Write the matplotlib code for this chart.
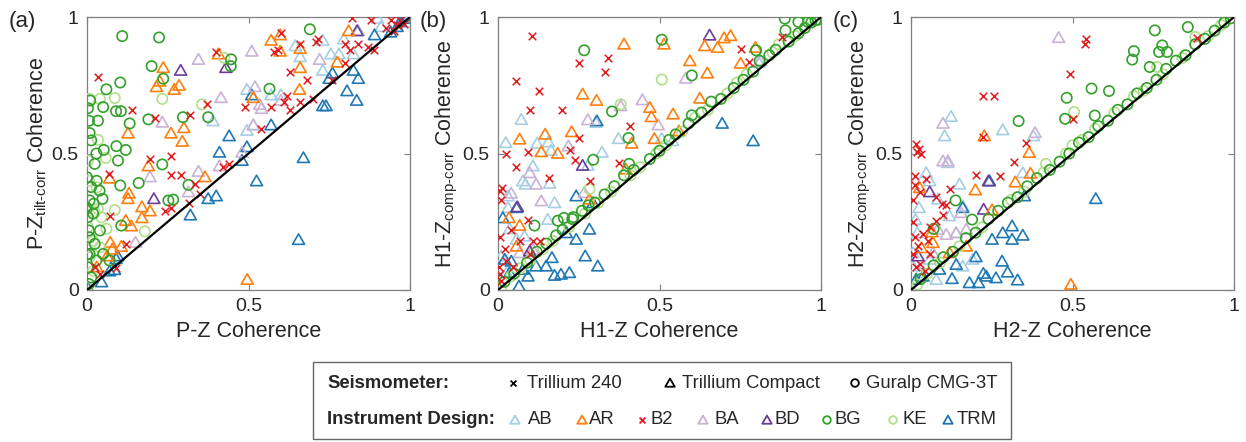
import matplotlib
matplotlib.use("Agg")
import matplotlib.pyplot as plt
from matplotlib.patches import Rectangle
from matplotlib.path import Path
import numpy as np

plt.rcParams['font.family'] = ['Liberation Sans', 'DejaVu Sans']
plt.rcParams['mathtext.fontset'] = 'custom'
plt.rcParams['mathtext.rm'] = 'Liberation Sans'
plt.rcParams['mathtext.it'] = 'Liberation Sans:italic'
plt.rcParams['mathtext.bf'] = 'Liberation Sans:bold'

# ---------------- data (x = uncorrected coherence, y = corrected coherence) ----------------
designs = ["AB", "AR", "B2", "BA", "BD", "BG", "KE", "TRM"]
design_colors = ["#a6cee3", "#ff7f0e", "#e31a1c", "#cab2d6", "#6a3d9a", "#33a02c", "#b2df8a", "#1f78b4"]
design_markers = ["tri", "tri", "x", "tri", "tri", "o", "o", "tri"]

panel_letters = ["(a)", "(b)", "(c)"]
x_labels = ["P-Z Coherence", "H1-Z Coherence", "H2-Z Coherence"]
y_labels = ["P-Z$_{\\mathrm{tilt\u2010corr}}$ Coherence",
            "H1-Z$_{\\mathrm{comp\u2010corr}}$ Coherence",
            "H2-Z$_{\\mathrm{comp\u2010corr}}$ Coherence"]
tick_vals = [0, 0.5, 1]
tick_labels = ["0", "0.5", "1"]
seis_names = ["Trillium 240", "Trillium Compact", "Guralp CMG-3T"]

# ---- panel (a) ----
a_AB = [(0.495,0.73),(0.57,0.71),(0.60,0.71),(0.645,0.89),(0.66,0.85),(0.73,0.91),(0.755,0.86),(0.78,0.86),
        (0.825,0.86),(0.73,0.80),(0.495,0.58),(0.515,0.60),(0.39,0.615),(0.91,0.96),(0.99,0.975),(0.90,0.99),
        (0.84,0.945),(0.795,0.915)]
a_AR = [(0.236,0.81),(0.215,0.74),(0.225,0.76),(0.27,0.73),(0.285,0.745),(0.127,0.57),(0.26,0.57),(0.30,0.59),
        (0.295,0.54),(0.19,0.45),(0.07,0.405),(0.13,0.35),(0.127,0.33),(0.17,0.30),(0.17,0.26),(0.195,0.285),
        (0.12,0.25),(0.137,0.23),(0.072,0.17),(0.078,0.145),(0.106,0.155),(0.062,0.12),(0.365,0.41),(0.496,0.034),
        (0.57,0.91),(0.598,0.93),(0.598,0.87),(0.66,0.88),(0.66,0.81),(0.658,0.73),(0.515,0.70),(0.407,0.86),
        (0.81,0.945),(0.775,0.83),(0.03,0.08)]
a_B2 = [(0.034,0.78),(0.14,0.66),(0.21,0.63),(0.32,0.64),(0.37,0.68),(0.195,0.48),(0.26,0.49),(0.067,0.425),
        (0.26,0.42),(0.29,0.42),(0.24,0.29),(0.26,0.30),(0.317,0.32),(0.35,0.35),(0.335,0.39),(0.122,0.17),(0.07,0.27),
        (0.40,0.87),(0.59,0.88),(0.58,0.87),(0.60,0.94),(0.66,0.90),(0.71,0.91),(0.715,0.92),(0.63,0.80),
        (0.68,0.77),(0.62,0.71),(0.61,0.69),(0.57,0.67),(0.49,0.67),(0.63,0.66),(0.66,0.69),(0.70,0.70),
        (0.54,0.59),(0.44,0.46),(0.42,0.45),(0.76,0.77),(0.80,0.90),(0.815,0.88),(0.84,0.90),(0.87,0.89),
        (0.88,0.99),(0.94,0.99),(0.925,0.96),(0.95,0.95),(0.96,0.97),(0.80,0.83),(0.82,0.995),(0.89,0.88),
        (0.97,0.99),(0.98,0.975),(0.04,0.06),(0.024,0.083),(0.09,0.08)]
a_BA = [(0.345,0.84),(0.51,0.87),(0.72,0.84),(0.415,0.70),(0.52,0.74),(0.535,0.675),(0.54,0.66),(0.60,0.69),
        (0.233,0.61),(0.195,0.41),(0.345,0.43),(0.41,0.45),(0.314,0.355),(0.48,0.50),(0.15,0.17),(0.515,0.60)]
a_BD = [(0.29,0.80),(0.43,0.81),(0.207,0.33),(0.836,0.945)]
a_BG = [(0.109,0.93),(0.223,0.925),(0.69,0.955),(0.20,0.82),(0.236,0.774),(0.103,0.76),(0.06,0.735),(0.446,0.845),
        (0.445,0.82),(0.565,0.737),(0.05,0.67),(0.09,0.655),(0.105,0.655),(0.132,0.61),(0.19,0.625),(0.297,0.633),
        (0.375,0.633),(0.034,0.62),(0.006,0.62),(0.008,0.575),(0.052,0.513),(0.091,0.527),(0.12,0.513),(0.096,0.474),
        (0.233,0.46),(0.16,0.392),(0.103,0.383),(0.314,0.385),(0.252,0.328),(0.267,0.331),(0.048,0.334),(0.106,0.236),
        (0.01,0.694),(0.003,0.666),(0.013,0.548),(0.024,0.462),(0.03,0.40),(0.013,0.377),(0.039,0.364),(0.008,0.328),
        (0.019,0.28),(0.006,0.218),(0.024,0.169),(0.008,0.132),(0.029,0.108),(0.003,0.083),(0.013,0.046),(0.006,0.022),
        (0.008,0.193),(0.04,0.218),(0.003,0.267),(0.021,0.316),(0.0,0.413),(0.029,0.50),(0.05,0.132),(0.07,0.108),
        (0.0,0.30),(0.0,0.13)]
a_KE = [(0.425,0.85),(0.356,0.68),(0.233,0.70),(0.086,0.703),(0.04,0.70),(0.008,0.70),(0.034,0.55),(0.058,0.484),
        (0.003,0.474),(0.086,0.293),(0.06,0.224),(0.179,0.215),(0.024,0.285),(0.034,0.297),(0.006,0.40),(0.019,0.18),
        (0.04,0.156),(0.008,0.12),(0.0,0.01),(0.019,0.07),(0.03,0.376),(0.045,0.266),(0.003,0.23)]
a_TRM = [(0.985,1.0),(0.99,0.99),(0.97,0.98),(0.96,0.96),(0.89,0.93),(0.94,0.94),(0.825,0.80),(0.84,0.77),
         (0.805,0.725),(0.835,0.69),(0.76,0.79),(0.75,0.77),(0.73,0.67),(0.74,0.67),(0.51,0.71),(0.57,0.60),
         (0.44,0.56),(0.495,0.52),(0.41,0.50),(0.48,0.47),(0.67,0.48),(0.525,0.395),(0.40,0.34),(0.375,0.33),
         (0.32,0.27),(0.655,0.18),(0.09,0.11),(0.07,0.065),(0.085,0.07),(0.045,0.025),(0.003,0.004),(0.095,0.12)]

# ---- panel (b) ----
b_AB = [(0.072,0.62),(0.024,0.535),(0.121,0.533),(0.156,0.538),(0.164,0.507),(0.373,0.55),(0.322,0.50),(0.278,0.452),
        (0.108,0.45),(0.077,0.395),(0.085,0.383),(0.16,0.386),(0.175,0.315),(0.154,0.254),(0.031,0.34),(0.031,0.297),
        (0.036,0.22),(0.057,0.181),(0.082,0.193),(0.303,0.609),(0.507,0.55),(0.54,0.542),(0.807,0.83),(0.01,0.12),
        (0.026,0.059)]
b_AR = [(0.39,0.896),(0.514,0.896),(0.64,0.89),(0.68,0.884),(0.70,0.919),(0.72,0.927),(0.594,0.835),(0.648,0.79),
        (0.751,0.826),(0.262,0.713),(0.305,0.69),(0.47,0.664),(0.475,0.63),(0.542,0.64),(0.625,0.698),(0.067,0.548),
        (0.146,0.566),(0.228,0.575),(0.134,0.502),(0.185,0.496),(0.414,0.533),(0.484,0.55),(0.396,0.438),(0.067,0.232),
        (0.057,0.156),(0.034,0.26),(0.56,0.578),(0.797,0.884),(0.283,0.328)]
b_B2 = [(0.106,0.93),(0.25,0.83),(0.342,0.85),(0.331,0.80),(0.057,0.765),(0.126,0.73),(0.098,0.66),(0.199,0.66),
        (0.41,0.60),(0.252,0.557),(0.024,0.50),(0.093,0.505),(0.223,0.513),(0.238,0.477),(0.057,0.45),(0.376,0.466),
        (0.157,0.41),(0.285,0.40),(0.005,0.364),(0.013,0.374),(0.753,0.884),(0.777,0.835),(0.88,0.927),(0.01,0.328),
        (0.093,0.257),(0.007,0.193),(0.021,0.15),(0.041,0.218),(0.067,0.181),(0.108,0.181),(0.005,0.059),(0.01,0.034),
        (0.003,0.083),(0.026,0.108),(0.046,0.083),(0.098,0.132),(0.129,0.181)]
b_BA = [(0.447,0.692),(0.496,0.60),(0.278,0.619),(0.218,0.523),(0.098,0.425),(0.118,0.383),(0.134,0.322),(0.041,0.35),
        (0.581,0.771),(0.38,0.67),(0.267,0.352),(0.108,0.144),(0.813,0.835),(0.067,0.132)]
b_BD = [(0.655,0.929),(0.262,0.452),(0.06,0.30),(0.098,0.138)]
b_BG = [(0.888,0.994),(0.89,0.951),(0.93,0.982),(0.96,0.982),(0.983,0.988),(0.799,0.878),(0.507,0.917),(0.267,0.878),
        (0.60,0.786),(0.353,0.654),(0.404,0.557),(0.406,0.462),(0.295,0.477),(0.113,0.236),(0.185,0.254),(0.204,0.264),
        (0.233,0.267),(0.02,0.03),(0.05,0.06),(0.09,0.10),(0.12,0.14),(0.15,0.17),(0.18,0.20),(0.20,0.22),(0.23,0.26),
        (0.26,0.29),(0.28,0.31),(0.30,0.32),(0.33,0.35),(0.36,0.38),(0.39,0.42),(0.42,0.44),(0.47,0.48),(0.50,0.51),
        (0.53,0.55),(0.55,0.57),(0.59,0.61),(0.60,0.64),(0.63,0.65),(0.66,0.69),(0.69,0.70),(0.73,0.74),(0.76,0.77),
        (0.79,0.80),(0.81,0.84),(0.84,0.86),(0.86,0.88),(0.90,0.91),(0.93,0.94),(0.95,0.96),(0.97,0.98),(0.99,0.99)]
b_KE = [(0.507,0.771),(0.38,0.68),(0.283,0.37),(0.01,0.01),(0.04,0.05),(0.07,0.08),(0.10,0.11),(0.14,0.15),(0.17,0.18),
        (0.22,0.23),(0.27,0.28),(0.31,0.32),(0.35,0.36),(0.41,0.42),(0.44,0.45),(0.49,0.50),(0.52,0.53),(0.57,0.58),
        (0.61,0.63),(0.65,0.66),(0.71,0.72),(0.74,0.76),(0.77,0.79),(0.85,0.87),(0.87,0.90),(0.92,0.93)]
b_TRM = [(0.306,0.615),(0.694,0.606),(0.79,0.542),(0.242,0.34),(0.283,0.218),(0.27,0.12),(0.309,0.083),(0.221,0.059),
         (0.195,0.053),(0.175,0.049),(0.167,0.114),(0.149,0.083),(0.093,0.046),(0.065,0.01),(0.041,0.101),(0.021,0.108),
         (0.015,0.26),(0.057,0.297),(0.036,0.059),(0.077,0.071),(0.118,0.083),(0.242,0.181),(0.211,0.205),(0.294,0.315)]

# ---- panel (c) ----
c_AB = [(0.124,0.631),(0.104,0.56),(0.284,0.582),(0.379,0.56),(0.047,0.425),(0.058,0.395),(0.15,0.383),(0.114,0.462),
        (0.025,0.297),(0.014,0.254),(0.083,0.328),(0.119,0.267),(0.16,0.303),(0.346,0.425),(0.019,0.205),(0.006,0.083),
        (0.027,0.059),(0.006,0.132),(0.14,0.205),(0.191,0.108),(0.16,0.083),(0.078,0.034),(0.058,0.108)]
c_AR = [(0.227,0.56),(0.366,0.499),(0.37,0.423),(0.323,0.391),(0.199,0.362),(0.251,0.289),(0.027,0.37),(0.065,0.208),
        (0.495,0.016),(0.068,0.169),(0.032,0.15),(0.119,0.132),(0.171,0.156)]
c_B2 = [(0.541,0.92),(0.538,0.902),(0.492,0.792),(0.222,0.709),(0.256,0.71),(0.503,0.627),(0.356,0.539),(0.32,0.468),
        (0.016,0.535),(0.025,0.517),(0.032,0.499),(0.02,0.505),(0.013,0.416),(0.202,0.42),(0.276,0.416),(0.047,0.407),
        (0.122,0.37),(0.011,0.383),(0.027,0.358),(0.078,0.34),(0.097,0.315),(0.109,0.31),(0.099,0.273),(0.078,0.254),
        (0.006,0.248),(0.058,0.23),(0.011,0.193),(0.022,0.163),(0.006,0.132),(0.027,0.095),(0.042,0.071),(0.016,0.083),
        (0.058,0.132),(0.037,0.205),(0.886,0.924),(0.222,0.56),(0.006,0.328),(0.052,0.181)]
c_BA = [(0.457,0.92),(0.384,0.572),(0.099,0.606),(0.099,0.468),(0.114,0.468),(0.083,0.218),(0.109,0.199),(0.14,0.205),
        (0.171,0.218),(0.155,0.279),(0.068,0.132)]
c_BD = [(0.058,0.355),(0.24,0.395),(0.225,0.291),(0.022,0.12)]
c_BG = [(0.755,0.951),(0.857,0.963),(0.69,0.875),(0.685,0.844),(0.778,0.896),(0.768,0.872),(0.793,0.872),(0.739,0.817),
        (0.559,0.738),(0.613,0.729),(0.482,0.704),(0.477,0.627),(0.569,0.639),(0.333,0.619),(0.138,0.328),(0.189,0.258),
        (0.07,0.224),(0.03,0.04),(0.07,0.09),(0.10,0.12),(0.13,0.14),(0.17,0.19),(0.20,0.21),(0.24,0.26),(0.27,0.29),
        (0.30,0.32),(0.33,0.34),(0.36,0.38),(0.39,0.41),(0.43,0.44),(0.46,0.47),(0.49,0.50),(0.52,0.54),(0.55,0.56),
        (0.58,0.60),(0.61,0.62),(0.64,0.66),(0.67,0.68),(0.70,0.72),(0.73,0.74),(0.76,0.77),(0.79,0.81),(0.82,0.84),
        (0.85,0.86),(0.88,0.90),(0.91,0.92),(0.94,0.95),(0.97,0.98),(0.99,0.995)]
c_KE = [(0.505,0.652),(0.762,0.817),(0.418,0.462),(0.88,0.927),(0.02,0.02),(0.05,0.06),(0.09,0.10),(0.15,0.16),
        (0.22,0.23),(0.31,0.33),(0.35,0.36),(0.41,0.43),(0.48,0.50),(0.50,0.53),(0.53,0.55),(0.57,0.59),(0.63,0.65),
        (0.69,0.71),(0.72,0.73),(0.78,0.79),(0.84,0.85),(0.92,0.93),(0.96,0.97)]
c_TRM = [(0.572,0.33),(0.313,0.23),(0.284,0.205),(0.313,0.181),(0.346,0.196),(0.251,0.181),(0.201,0.117),(0.282,0.101),
         (0.224,0.056),(0.299,0.061),(0.33,0.032),(0.181,0.022),(0.209,0.022),(0.263,0.04),(0.127,0.037),(0.14,0.089),
         (0.351,0.34),(0.243,0.395),(0.16,0.297),(0.016,0.034),(0.037,0.046),(0.088,0.071),(0.233,0.046)]

panel_data = [
    {"AB": a_AB, "AR": a_AR, "B2": a_B2, "BA": a_BA, "BD": a_BD, "BG": a_BG, "KE": a_KE, "TRM": a_TRM},
    {"AB": b_AB, "AR": b_AR, "B2": b_B2, "BA": b_BA, "BD": b_BD, "BG": b_BG, "KE": b_KE, "TRM": b_TRM},
    {"AB": c_AB, "AR": c_AR, "B2": c_B2, "BA": c_BA, "BD": c_BD, "BG": c_BG, "KE": c_KE, "TRM": c_TRM},
]

# ---------------- styling ----------------
W, H = 1246, 442
fig = plt.figure(figsize=(W / 100, H / 100), dpi=100)

TRI = Path([(-1, -0.577), (1, -0.577), (0, 1.155), (-1, -0.577)],
           [Path.MOVETO, Path.LINETO, Path.LINETO, Path.CLOSEPOLY])

def mk(name):
    return TRI if name == "tri" else name

sizes = {"tri": 100, "o": 55, "x": 30}
draw_order = ["AB", "TRM", "BA", "BD", "AR", "KE", "BG", "B2"]

ax_left_px = [87, 498, 911]
ax_w_px = 323
ax_top_px, ax_bot_px = 17, 290
spine_col = "#7f7f7f"
txt_col = "#262626"

for i in range(3):
    ax = fig.add_axes([ax_left_px[i] / W, 1 - ax_bot_px / H, ax_w_px / W, (ax_bot_px - ax_top_px) / H])
    for d in draw_order:
        j = designs.index(d)
        pts = np.array(panel_data[i][d])
        m = design_markers[j]
        if m == "x":
            ax.scatter(pts[:, 0], pts[:, 1], marker="x", s=sizes["x"], c=design_colors[j], linewidths=1.1, zorder=3)
        else:
            ax.scatter(pts[:, 0], pts[:, 1], marker=mk(m), s=sizes[m], facecolors="none",
                       edgecolors=design_colors[j], linewidths=1.2, zorder=3)
    ax.plot([0, 1], [0, 1], color="black", lw=1.6, zorder=4)
    ax.set_xlim(0, 1)
    ax.set_ylim(0, 1)
    ax.set_xticks(tick_vals)
    ax.set_xticklabels(tick_labels)
    ax.set_yticks(tick_vals)
    ax.set_yticklabels(tick_labels)
    ax.tick_params(direction="in", top=True, right=True, length=4, width=0.8,
                   color=spine_col, labelsize=14, labelcolor=txt_col, pad=6)
    for s in ax.spines.values():
        s.set_color(spine_col)
        s.set_linewidth(0.9)
    ax.set_xlabel(x_labels[i], fontsize=15.5, color=txt_col, labelpad=4)
    ax.set_ylabel(y_labels[i], fontsize=15.5, color=txt_col, labelpad=2)
    fig.text((ax_left_px[i] - 78) / W, 1 - 22 / H, panel_letters[i], fontsize=16, color=txt_col,
             ha="left", va="center")

# ---------------- legend box ----------------
lax = fig.add_axes([0, 0, 1, 1])
lax.set_xlim(0, W)
lax.set_ylim(H, 0)
lax.axis("off")
lax.add_patch(Rectangle((313, 362), 698, 77, fill=False, edgecolor="#666666", lw=1.0))
row1, row2 = 383, 420
fs = 13.3
lax.text(327, row1, "Seismometer:", fontsize=fs, fontweight="bold", va="center", ha="left", color=txt_col)
lax.text(327, row2, "Instrument Design:", fontsize=fs, fontweight="bold", va="center", ha="left", color=txt_col)

leg_tri_s, leg_o_s, leg_x_s = 62, 30, 18
seis_markers = ["x", "tri", "o"]
seis_mx = [513, 670, 855]
seis_tx = [527, 682, 866]
for nm, m, mx, tx in zip(seis_names, seis_markers, seis_mx, seis_tx):
    if m == "x":
        lax.scatter([mx], [row1], marker="x", s=leg_x_s, c="black", linewidths=1.3)
    else:
        lax.scatter([mx], [row1 + (1 if m == "tri" else 0)], marker=mk(m), s=leg_tri_s if m == "tri" else leg_o_s,
                    facecolors="none", edgecolors="black", linewidths=1.3)
    lax.text(tx, row1, nm, fontsize=fs, va="center", ha="left", color=txt_col)

des_mx = [515, 582, 642, 703, 767, 827, 893, 948]
des_tx = [528, 589, 650, 715, 775, 835, 903, 957]
for j, d in enumerate(designs):
    m = design_markers[j]
    if m == "x":
        lax.scatter([des_mx[j]], [row2], marker="x", s=leg_x_s, c=design_colors[j], linewidths=1.3)
    else:
        lax.scatter([des_mx[j]], [row2 + (1 if m == "tri" else 0)], marker=mk(m),
                    s=leg_tri_s if m == "tri" else leg_o_s, facecolors="none",
                    edgecolors=design_colors[j], linewidths=1.3)
    lax.text(des_tx[j], row2, d, fontsize=fs, va="center", ha="left", color=txt_col)

fig.savefig("out.png", dpi=100)
